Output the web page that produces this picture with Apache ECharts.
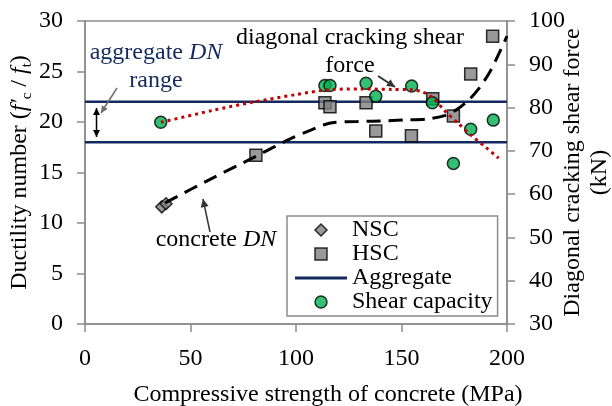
<!DOCTYPE html>
<html><head><meta charset="utf-8">
<script src="https://cdn.jsdelivr.net/npm/echarts@6/dist/echarts.min.js"></script>
<style>html,body{margin:0;padding:0;background:#fff}#c{width:612px;height:406px}</style>
</head><body><div id="c"></div>
<script>
// ---- data ----
const xTicks = [0, 50, 100, 150, 200];
const leftTicks = [0, 5, 10, 15, 20, 25, 30];
const rightTicks = [30, 40, 50, 60, 70, 80, 90, 100];
const nscData = [[36.4, 11.6], [38.4, 11.9]];
const hscData = [[81, 16.7], [113.7, 21.9], [116.1, 21.5], [133.2, 21.9], [137.8, 19.1], [154.7, 18.65], [164.8, 22.3], [174.6, 20.6], [182.8, 24.75], [193.2, 28.5]];
const aggregateUpper = [[0, 22], [200, 22]];
const aggregateLower = [[0, 18], [200, 18]];
const shearData = [[35.9, 76.6], [113.7, 85.1], [116.1, 85.1], [133.2, 85.6], [137.8, 82.6], [154.8, 85.0], [164.6, 81.1], [174.6, 67.1], [182.8, 75.0], [193.5, 77.1]];
const shearTrend = [[36, 76.6], [60, 79.3], [80, 81.3], [100, 83.0], [115, 84.1], [130, 84.3], [145, 84.2], [155, 84.1], [160, 83.6], [165, 82.2], [170, 79.5], [177, 76.3], [183, 73.6], [190, 70.8], [196, 68.3]];
const concreteDN = [[38, 12.0], [60, 14.4], [81, 16.6], [97, 18.3], [107, 19.2], [113, 19.7], [118, 19.95], [129, 20.05], [140, 20.1], [151, 20.2], [162, 20.3], [170, 20.6], [176, 21.2], [182, 22.2], [187, 23.4], [192, 25.0], [196, 26.7], [200, 28.5]];

const FONT = 'Liberation Serif, Times New Roman, serif';
const FS = 24;
const NAVY = '#13295f';
const AXIS = '#8c8c8c';
const GRAY = '#7f7f7f';

function arrow(x1, y1, x2, y2, color, w, head, both) {
  const els = [{type: 'line', shape: {x1, y1, x2, y2}, style: {stroke: color, lineWidth: w}, z: 50}];
  function headAt(ax, ay, bx, by) {
    const a = Math.atan2(ay - by, ax - bx);
    const s = head * 0.5;
    return {type: 'polygon', z: 51, shape: {points: [
      [ax, ay],
      [ax - head * Math.cos(a) + s * Math.sin(a), ay - head * Math.sin(a) - s * Math.cos(a)],
      [ax - head * Math.cos(a) - s * Math.sin(a), ay - head * Math.sin(a) + s * Math.cos(a)]
    ]}, style: {fill: color}};
  }
  els.push(headAt(x2, y2, x1, y1));
  if (both) els.push(headAt(x1, y1, x2, y2));
  return els;
}

const chart = echarts.init(document.getElementById('c'), null, {renderer: 'canvas'});
const labelStyle = {color: '#000', fontFamily: FONT, fontSize: FS};
const axisLine = {show: true, lineStyle: {color: AXIS, width: 1.5}};
const axisTick = {show: true, length: 8, lineStyle: {color: AXIS, width: 1.5}};
const markerStyle = {borderColor: '#000', borderWidth: 1.5};

chart.setOption({
  animation: false,
  backgroundColor: '#fff',
  grid: {left: 85, right: 105, top: 21, bottom: 82, containLabel: false, outerBoundsMode: 'none',
    show: true, borderColor: AXIS, borderWidth: 1.5, backgroundColor: 'transparent'},
  legend: {
    orient: 'vertical', left: 287, top: 216, symbolKeepAspect: true,
    padding: [2, 5, 2, 8], itemWidth: 52, itemHeight: 12, itemGap: 0, itemTextGap: 6,
    borderColor: AXIS, borderWidth: 1.5, backgroundColor: '#fff',
    textStyle: {color: '#000', fontFamily: FONT, fontSize: FS, lineHeight: 23.5},
    data: [
      {name: 'NSC', icon: 'path://M5,0L10,5L5,10L0,5Z', itemStyle: Object.assign({color: GRAY}, markerStyle)},
      {name: 'HSC', icon: 'path://M0,0L12,0L12,12L0,12Z', itemStyle: Object.assign({color: GRAY}, markerStyle)},
      {name: 'Aggregate', icon: 'path://M0,0L52,0L52,3L0,3Z', itemStyle: {color: NAVY, borderWidth: 0}},
      {name: 'Shear capacity', icon: 'circle', itemStyle: Object.assign({color: '#00b050'}, markerStyle)}
    ]
  },
  xAxis: {
    type: 'value', min: xTicks[0], max: xTicks[xTicks.length - 1], interval: 50,
    name: 'Compressive strength of concrete (MPa)', nameLocation: 'middle', nameGap: 59, nameMoveOverlap: false,
    nameTextStyle: {color: '#000', fontFamily: FONT, fontSize: FS, padding: [0, 0, 0, 64]},
    axisLine, axisTick, splitLine: {show: false},
    axisLabel: Object.assign({margin: 23}, labelStyle)
  },
  yAxis: [{
    type: 'value', min: leftTicks[0], max: leftTicks[leftTicks.length - 1], interval: 5, position: 'left',
    name: 'Ductility number ({i|f′}{sub|c}{n| / }{i|f}{sub|t}{n|)}', nameLocation: 'middle', nameGap: 50, nameMoveOverlap: false,
    nameTextStyle: {color: '#000', fontFamily: FONT, fontSize: FS, lineHeight: 30,
      rich: {
        i: {fontStyle: 'italic', fontFamily: FONT, fontSize: FS, color: '#000', lineHeight: 30},
        n: {fontFamily: FONT, fontSize: FS, color: '#000', lineHeight: 30},
        sub: {fontFamily: FONT, fontSize: 15, color: '#000', verticalAlign: 'bottom'}
      }},
    axisLine, axisTick, splitLine: {show: false},
    axisLabel: Object.assign({margin: 22}, labelStyle)
  }, {
    type: 'value', min: rightTicks[0], max: rightTicks[rightTicks.length - 1], interval: 10, position: 'right',
    name: 'Diagonal cracking shear force\n(kN)', nameLocation: 'middle', nameGap: 52, nameMoveOverlap: false,
    nameTextStyle: {color: '#000', fontFamily: FONT, fontSize: FS, lineHeight: 27},
    axisLine, axisTick, splitLine: {show: false},
    axisLabel: Object.assign({margin: 22}, labelStyle)
  }],
  series: [
    {name: 'Aggregate', type: 'line', data: aggregateUpper, yAxisIndex: 0, symbol: 'none', showSymbol: false, z: 2,
      lineStyle: {color: NAVY, width: 2.5}, itemStyle: {color: NAVY}},
    {name: 'Aggregate', type: 'line', data: aggregateLower, yAxisIndex: 0, symbol: 'none', showSymbol: false, z: 2,
      lineStyle: {color: NAVY, width: 2.5}, itemStyle: {color: NAVY}},
    {name: 'NSC', type: 'scatter', data: nscData, yAxisIndex: 0, symbol: 'diamond', symbolSize: 12, z: 3,
      itemStyle: Object.assign({color: GRAY}, markerStyle)},
    {name: 'HSC', type: 'scatter', data: hscData, yAxisIndex: 0, symbol: 'rect', symbolSize: 12, z: 3,
      itemStyle: Object.assign({color: GRAY}, markerStyle)},
    {name: 'Shear capacity', type: 'scatter', data: shearData, yAxisIndex: 1, symbol: 'circle', symbolSize: 12, z: 3,
      itemStyle: Object.assign({color: '#00b050'}, markerStyle)},
    {name: 'shear trend', type: 'line', data: shearTrend, yAxisIndex: 1, symbol: 'none', smooth: 0.3, z: 4,
      lineStyle: {color: '#c00000', width: 3, type: [3, 4], cap: 'butt'}},
    {name: 'concrete trend', type: 'line', data: concreteDN, yAxisIndex: 0, symbol: 'none', smooth: 0.3, z: 4,
      lineStyle: {color: '#000', width: 3, type: [14, 8], cap: 'butt'}}
  ],
  graphic: [
    {type: 'text', z: 50, x: 156, y: 53, style: {text: 'aggregate {it|DN}', fill: NAVY, font: FS + 'px ' + FONT, align: 'center', verticalAlign: 'middle',
      rich: {it: {fontStyle: 'italic', fontSize: FS, fontFamily: FONT, fill: NAVY}}}},
    {type: 'text', z: 50, x: 156, y: 81, style: {text: 'range', fill: NAVY, font: FS + 'px ' + FONT, align: 'center', verticalAlign: 'middle'}},
    {type: 'text', z: 50, x: 350, y: 38, style: {text: 'diagonal cracking shear', fill: '#000', font: FS + 'px ' + FONT, align: 'center', verticalAlign: 'middle'}},
    {type: 'text', z: 50, x: 350, y: 66, style: {text: 'force', fill: '#000', font: FS + 'px ' + FONT, align: 'center', verticalAlign: 'middle'}},
    {type: 'text', z: 50, x: 216, y: 240, style: {text: 'concrete {it|DN}', fill: '#000', font: FS + 'px ' + FONT, align: 'center', verticalAlign: 'middle',
      rich: {it: {fontStyle: 'italic', fontSize: FS, fontFamily: FONT, fill: '#000'}}}}
  ].concat(
    arrow(117, 88, 101, 113, '#6e6e6e', 1.5, 7, false),
    arrow(96.5, 108, 96.5, 137, '#000', 1.5, 7, true),
    arrow(378, 76, 395, 87, '#333', 2, 8, false),
    arrow(210, 232, 203, 199, '#333', 1.5, 8, false)
  )
});
</script></body></html>
